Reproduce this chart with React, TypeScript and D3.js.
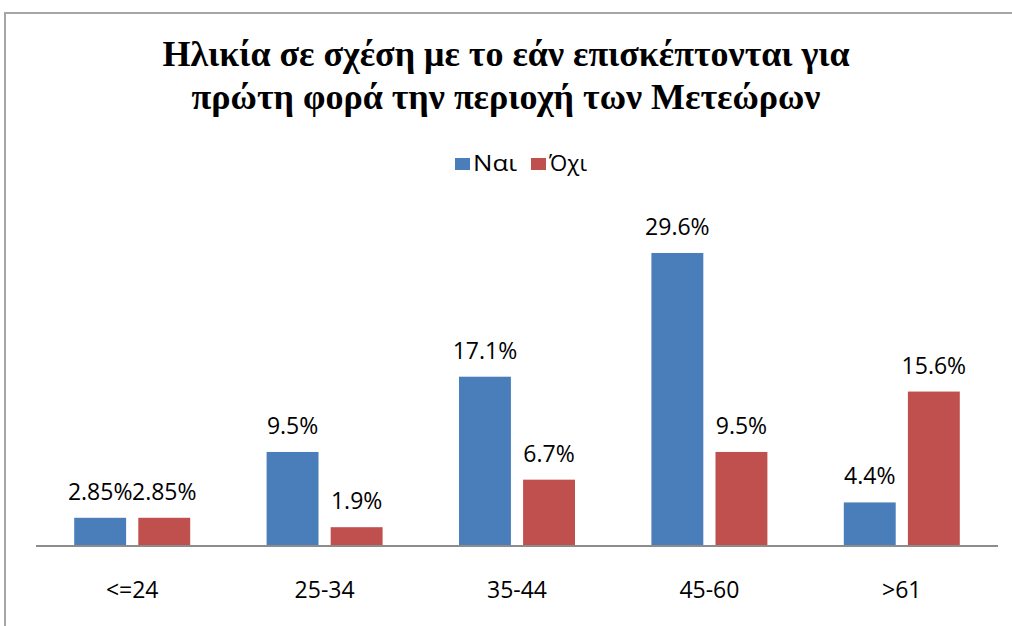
import React, { useEffect } from "react";
import * as d3 from "d3";

const titleLines = [
  "Ηλικία σε σχέση με το εάν επισκέπτονται για",
  "πρώτη φορά την περιοχή των Μετεώρων",
];
const categories = ["<=24", "25-34", "35-44", "45-60", ">61"];
const seriesNames = ["Ναι", "Όχι"];
const yesValues = [2.85, 9.5, 17.1, 29.6, 4.4];
const noValues = [2.85, 1.9, 6.7, 9.5, 15.6];
const valueLabels = [
  ["2.85%", "9.5%", "17.1%", "29.6%", "4.4%"],
  ["2.85%", "1.9%", "6.7%", "9.5%", "15.6%"],
];
const colors = ["#4a7ebb", "#c0504d"];

const W = 1012;
const H = 626;
const sans = "'Open Sans', 'DejaVu Sans', sans-serif";

const App = () => {
  useEffect(() => {
    document.body.style.margin = "0";
  }, []);

  const x0 = d3.scaleBand<string>().domain(categories).range([36, 998]);
  const x1 = d3
    .scaleBand<string>()
    .domain(seriesNames)
    .range([x0.bandwidth() / 2 - 58, x0.bandwidth() / 2 + 58])
    .paddingInner(0.19);
  const y = d3.scaleLinear().domain([0, 35]).range([546, 199.5]);
  const series = [yesValues, noValues];

  return (
    <svg width={W} height={H} style={{ display: "block", background: "#fff" }}>
      <rect x={5} y={13} width={W + 10} height={H + 10} fill="#fff" stroke="#a6a6a6" strokeWidth={2} />
      {titleLines.map((t, i) => (
        <text
          key={i}
          x={506}
          y={66 + i * 43}
          textAnchor="middle"
          fontFamily="'Liberation Serif', 'Times New Roman', serif"
          fontWeight="bold"
          fontSize={36}
          fill="#000"
        >
          {t}
        </text>
      ))}
      {/* legend */}
      <g fontFamily={sans} fontSize={21} fill="#000">
        <rect x={455} y={158} width={15} height={12} fill={colors[0]} />
        <text x={473} y={171} textLength={44} lengthAdjust="spacingAndGlyphs">{seriesNames[0]}</text>
        <rect x={531} y={158} width={15} height={12} fill={colors[1]} />
        <text x={549} y={171} textLength={38} lengthAdjust="spacingAndGlyphs">{seriesNames[1]}</text>
      </g>
      {series.map((vals, s) =>
        vals.map((v, i) => {
          const bx = (x0(categories[i]) ?? 0) + (x1(seriesNames[s]) ?? 0);
          return (
            <g key={`${s}-${i}`}>
              <rect x={bx} y={y(v)} width={x1.bandwidth()} height={y(0) - y(v)} fill={colors[s]} />
              <text
                x={bx + x1.bandwidth() / 2}
                y={y(v) - 18}
                textAnchor="middle"
                fontFamily={sans}
                fontSize={23}
                fill="#000"
              >
                {valueLabels[s][i]}
              </text>
            </g>
          );
        })
      )}
      <line x1={36} x2={998} y1={y(0)} y2={y(0)} stroke="#8c8c8c" strokeWidth={2} />
      {categories.map((c) => (
        <text
          key={c}
          x={(x0(c) ?? 0) + x0.bandwidth() / 2}
          y={598}
          textAnchor="middle"
          fontFamily={sans}
          fontSize={23}
          fill="#000"
        >
          {c}
        </text>
      ))}
    </svg>
  );
};

export default App;
